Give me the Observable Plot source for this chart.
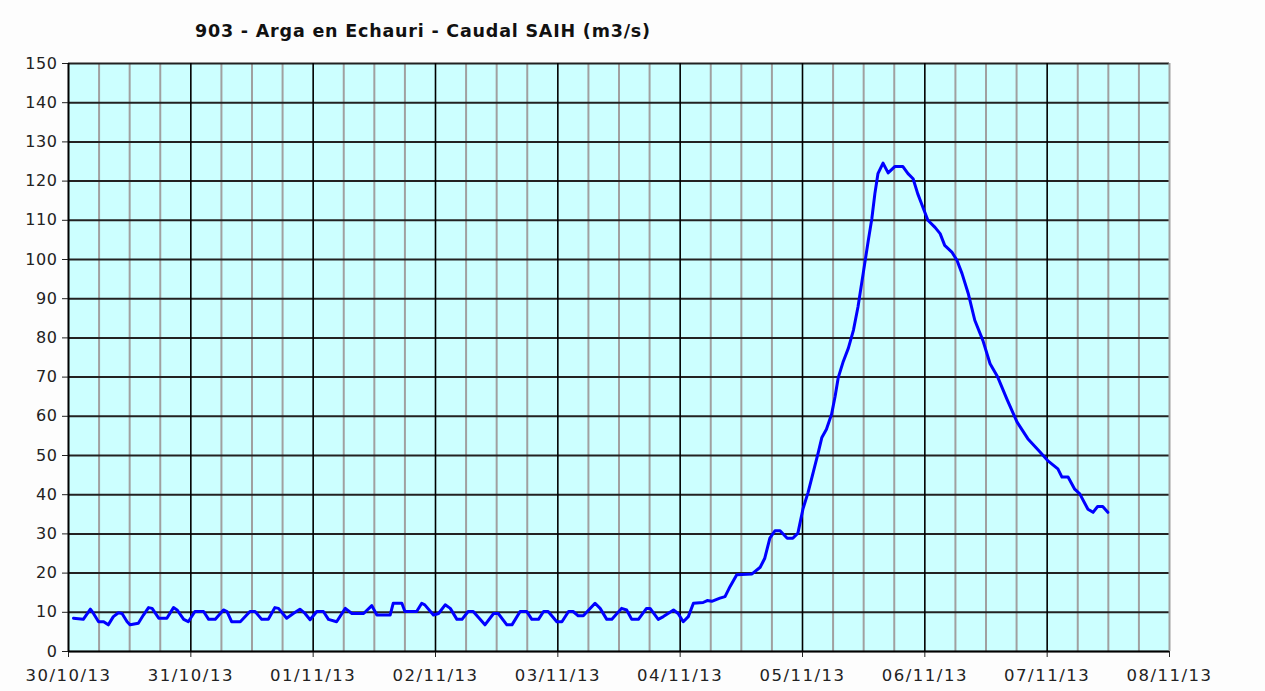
<!DOCTYPE html>
<html>
<head>
<meta charset="utf-8">
<script src="https://cdn.jsdelivr.net/npm/d3@7"></script>
<script src="https://cdn.jsdelivr.net/npm/@observablehq/plot@0.6"></script>
<style>
  html, body { margin: 0; padding: 0; background: #fdfdfd; }
  #title { height: 50px; box-sizing: border-box; padding: 21px 0 0 195px; font: bold 17.5px "DejaVu Sans", Verdana, sans-serif; line-height: 20px; color: #111; letter-spacing: 0.8px; white-space: nowrap; }
  #chart svg { display: block; }
  #chart g[aria-label="x-axis tick label"] { font-size: 16.5px !important; letter-spacing: 1.5px; }
  #chart g[aria-label="y-axis tick label"] { font-size: 16px !important; letter-spacing: 0.6px; }
</style>
</head>
<body>
<div id="title">903 - Arga en Echauri - Caudal SAIH (m3/s)</div>
<div id="chart"></div>
<script>
// Hours after 30/10/13 00:00 and flow (m3/s)
const hours = [0.98, 2.9, 4.3, 4.9, 5.9, 6.9, 7.8, 8.8, 9.8, 10.5, 11.5, 12.1, 13.7, 14.7, 15.7, 16.4, 17.7, 19.3, 20.6, 21.3, 22.6, 23.5,
  24.8, 26.5, 27.5, 28.8, 30.4, 31.1, 32.0, 33.7, 35.6, 36.6, 37.9, 39.2, 40.5, 41.2, 42.8, 44.1, 45.4, 46.4, 47.4,
  48.7, 50.0, 51.0, 52.6, 54.3, 55.6, 57.9, 59.5, 60.5, 63.1, 63.7, 65.4, 66.0, 68.3, 69.3, 69.9, 71.6,
  72.6, 73.9, 74.9, 76.2, 77.2, 78.4, 79.4, 81.7, 83.4, 84.3, 86.0, 87.0, 88.6, 89.9, 90.9, 92.2, 93.2, 94.1, 95.8,
  96.8, 98.1, 99.0, 100.0, 101.0, 103.3, 104.3, 105.6, 106.6, 108.5, 109.5, 110.5, 111.8, 113.4, 114.1, 115.7, 116.7, 118.7, 119.6,
  120.6, 121.6, 122.6, 124.5, 125.3, 126.2, 127.8, 128.8, 129.8, 131.1, 134.1, 135.7, 136.6, 137.6, 138.6, 139.6, 141.0, 142.1, 143.1,
  144.1, 145.1, 146.1, 147.1, 147.8, 148.7, 149.7, 150.4, 151.0, 152.0, 153.0, 154.0, 154.9, 155.9, 156.9, 157.6, 158.2, 158.8, 159.8,
  160.8, 162.1, 163.7, 164.7, 165.7, 166.6, 167.6, 168.6, 170.0, 171.0, 171.9, 173.3, 174.3, 175.3, 176.5, 177.8, 179.4, 180.8, 182.3,
  184.1, 186.1, 188.2, 190.6, 192.1, 194.1, 194.9, 196.1, 197.4, 198.4, 200.0, 201.0, 201.9, 202.9, 203.9];
const flow = [8.5, 8.2, 10.8, 9.7, 7.6, 7.6, 6.8, 8.9, 9.9, 9.7, 7.6, 6.8, 7.2, 9.3, 11.2, 11.0, 8.5, 8.5, 11.2, 10.6, 8.2, 7.6,
  10.2, 10.2, 8.2, 8.2, 10.6, 10.2, 7.6, 7.6, 10.2, 10.2, 8.2, 8.2, 11.2, 11.0, 8.5, 9.7, 10.8, 9.7, 8.1,
  10.2, 10.2, 8.2, 7.6, 11.0, 9.7, 9.7, 11.7, 9.3, 9.3, 12.3, 12.3, 10.2, 10.2, 12.3, 11.9, 9.3,
  9.7, 11.9, 11.0, 8.2, 8.2, 10.2, 10.2, 6.8, 9.7, 9.7, 6.8, 6.8, 10.2, 10.2, 8.2, 8.2, 10.2, 10.2, 7.6,
  7.6, 10.2, 10.2, 9.1, 9.1, 12.3, 11.0, 8.2, 8.2, 11.0, 10.6, 8.2, 8.2, 11.0, 11.0, 8.2, 8.9, 10.6, 9.7,
  7.6, 8.9, 12.3, 12.5, 13.0, 12.8, 13.6, 14.0, 16.6, 19.6, 19.8, 21.5, 23.8, 28.9, 30.8, 30.8, 28.9, 28.9, 30.2,
  36.4, 40.6, 45.7, 50.8, 54.6, 56.7, 60.5, 65.1, 69.8, 74.0, 77.4, 82.0, 88.0, 96.4, 104.8, 110.4, 116.8, 121.9, 124.6,
  122.1, 123.7, 123.7, 121.9, 120.6, 116.8, 113.4, 110.0, 108.2, 106.6, 103.6, 101.9, 99.8, 96.4, 91.4, 84.5, 79.3, 73.4, 70.0,
  64.4, 58.5, 54.3, 50.9, 48.7, 46.6, 44.5, 44.5, 41.4, 40.2, 36.3, 35.5, 37.0, 37.0, 35.5];
const yTicks = [0, 10, 20, 30, 40, 50, 60, 70, 80, 90, 100, 110, 120, 130, 140, 150];
const startDate = Date.UTC(2013, 9, 30);
const endDate = Date.UTC(2013, 10, 8);

const data = hours.map((h, i) => ({date: new Date(startDate + h * 3600e3), value: flow[i]}));
const dayTicks = d3.utcDay.range(new Date(startDate), new Date(endDate + 1));
const quarterTicks = d3.utcHour.every(6).range(new Date(startDate), new Date(endDate + 1)).filter(d => d.getUTCHours() !== 0);
const fmt = d3.utcFormat("%d/%m/%y");

const chart = Plot.plot({
  width: 1265,
  height: 641,
  marginTop: 13,
  marginBottom: 40,
  marginLeft: 68,
  marginRight: 96,
  style: {fontFamily: "'DejaVu Sans', Verdana, sans-serif", fontSize: "16px", color: "#222", background: "transparent"},
  x: {type: "utc", domain: [new Date(startDate), new Date(endDate)]},
  y: {domain: [0, 150]},
  marks: [
    Plot.frame({fill: "#ccffff", stroke: null}),
    Plot.ruleX(quarterTicks, {stroke: "#a0a0a0", strokeWidth: 2}),
    Plot.ruleY(yTicks, {stroke: "#222", strokeWidth: 2}),
    Plot.ruleX(dayTicks.slice(0, -1), {stroke: "#000", strokeWidth: 1.6}),
    Plot.ruleX([new Date(endDate)], {stroke: "#a0a0a0", strokeWidth: 2}),
    Plot.axisY({ticks: yTicks, tickSize: 6, tickPadding: 5, label: null, tickFormat: d => String(d)}),
    Plot.axisX({ticks: dayTicks, tickSize: 6, tickPadding: 12, label: null, tickFormat: fmt}),
    Plot.ruleY([0], {stroke: "#000", strokeWidth: 1.6}),
    Plot.ruleX([new Date(startDate)], {stroke: "#000", strokeWidth: 1.6}),
    Plot.line(data, {x: "date", y: "value", stroke: "#0000ff", strokeWidth: 3, strokeLinejoin: "round"})
  ]
});
document.getElementById("chart").append(chart);
</script>
</body>
</html>
